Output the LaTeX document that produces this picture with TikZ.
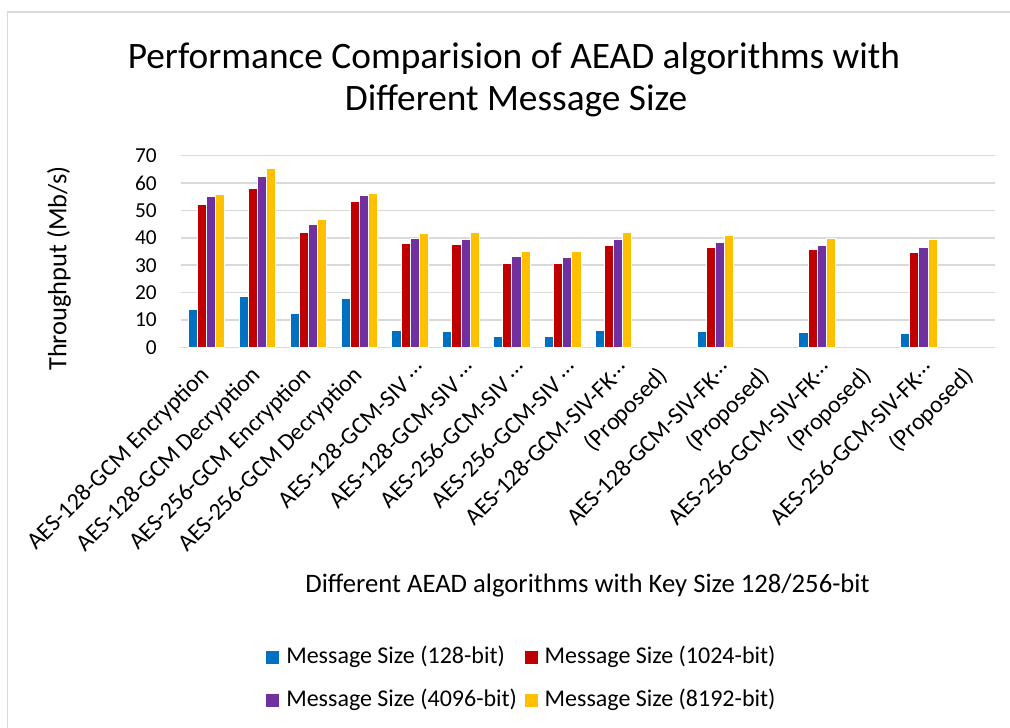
\documentclass[tikz,border=0pt]{standalone}
\usepackage{fontspec}
\setmainfont{Carlito}
\definecolor{sblue}{HTML}{0070C0}
\definecolor{sred}{HTML}{C00000}
\definecolor{spurple}{HTML}{7030A0}
\definecolor{syellow}{HTML}{FFC000}
\definecolor{gridgray}{HTML}{D9D9D9}
\newcommand{\dotsraised}{\raisebox{0.22em}{…}}
\begin{document}
\begin{tikzpicture}[x=0.75pt,y=-0.75pt,
  gridline/.style={draw=gridgray,line width=1.1pt},
  ticklbl/.style={font=\fontsize{16pt}{19pt}\selectfont,inner sep=0pt,anchor=east},
  catlbl/.style={font=\fontsize{18pt}{21pt}\selectfont,inner sep=0pt,rotate=45,anchor=east},
  axlbl/.style={font=\fontsize{20pt}{24pt}\selectfont,inner sep=0pt},
  ylbl/.style={font=\fontsize{19.8pt}{23pt}\selectfont,inner sep=0pt,rotate=90},
  titlelbl/.style={font=\fontsize{28pt}{33pt}\selectfont,inner sep=0pt,anchor=base},
  leglbl/.style={font=\fontsize{18pt}{21pt}\selectfont,inner sep=0pt,anchor=base west},
  bar/.style={draw=white,line width=0.4pt}]
\useasboundingbox (0,0) rectangle (1010,728);
\fill[white] (0,0) rectangle (1010,728);
\draw[gridgray,line width=1.1pt] (7.5,728) -- (7.5,12) -- (1010,12);
% title
\node[titlelbl] (title1) at (514,68.3) {Performance Comparision of AEAD algorithms with};
\node[titlelbl] (title2) at (516,110) {Different Message Size};
% grid and ticks
\foreach \v in {0,10,...,70}{
  \pgfmathsetmacro\yy{347.3-2.737*\v}
  \draw[gridline] (181,\yy) -- (995,\yy);
  \node[ticklbl] (tick\v) at (157,\yy) {\v};
}
% bars
\foreach \i/\a/\b/\c/\d in {1/14/52.2/55.1/55.9, 2/18.8/58.0/62.4/65.4, 3/12.5/42.1/44.9/46.6,
  4/18.0/53.3/55.6/56.3, 5/6.2/38.0/40.0/41.7, 6/5.8/37.6/39.5/42.0, 7/4.2/30.8/33.1/35.0,
  8/4.2/30.8/33.0/35.0, 9/6.2/37.3/39.6/42.0, 11/5.9/36.7/38.3/40.9, 13/5.6/35.9/37.2/40.0,
  15/5.3/34.7/36.6/39.4}{
  \pgfmathsetmacro\cx{181+(\i-0.5)*50.875}
  \fill[sblue,bar] (\cx-18.2,347.3) rectangle (\cx-9.1,347.3-2.737*\a);
  \fill[sred,bar] (\cx-9.1,347.3) rectangle (\cx,347.3-2.737*\b);
  \fill[spurple,bar] (\cx,347.3) rectangle (\cx+9.1,347.3-2.737*\c);
  \fill[syellow,bar] (\cx+9.1,347.3) rectangle (\cx+18.2,347.3-2.737*\d);
}
% category labels
\foreach \i/\dx/\dy/\t in {1/0/0/AES-128-GCM Encryption, 2/0/0/AES-128-GCM Decryption,
  3/0/0/AES-256-GCM Encryption, 4/0/0/AES-256-GCM Decryption,
  5/11/-7/AES-128-GCM-SIV \dotsraised, 6/11/-7/AES-128-GCM-SIV \dotsraised,
  7/11/-7/AES-256-GCM-SIV \dotsraised, 8/11/-7/AES-256-GCM-SIV \dotsraised,
  9/11/-7/AES-128-GCM-SIV-FK\dotsraised, 10/0/0/(Proposed),
  11/11/-7/AES-128-GCM-SIV-FK\dotsraised, 12/0/0/(Proposed),
  13/11/-7/AES-256-GCM-SIV-FK\dotsraised, 14/0/0/(Proposed),
  15/11/-7/AES-256-GCM-SIV-FK\dotsraised, 16/0/0/(Proposed)}{
  \pgfmathsetmacro\cx{181+(\i-0.5)*50.875}
  \node[catlbl] (cat\i) at (\cx+\dx,372+\dy) {\t};
}
% axis titles
\node[axlbl] (xtitle) at (587.5,586) {Different AEAD algorithms with Key Size 128/256-bit};
\node[ylbl] (ytitle) at (59,268.5) {Throughput (Mb/s)};
% legend
\fill[sblue] (266,651) rectangle (279,664);
\node[leglbl] (leg1) at (286,663) {Message Size (128-bit)};
\fill[sred] (524.5,651) rectangle (537.5,664);
\node[leglbl] (leg2) at (544.4,663) {Message Size (1024-bit)};
\fill[spurple] (266,694) rectangle (279,707);
\node[leglbl] (leg3) at (286,706.7) {Message Size (4096-bit)};
\fill[syellow] (524.5,694) rectangle (537.5,707);
\node[leglbl] (leg4) at (544.4,706.7) {Message Size (8192-bit)};
\end{tikzpicture}
\end{document}
